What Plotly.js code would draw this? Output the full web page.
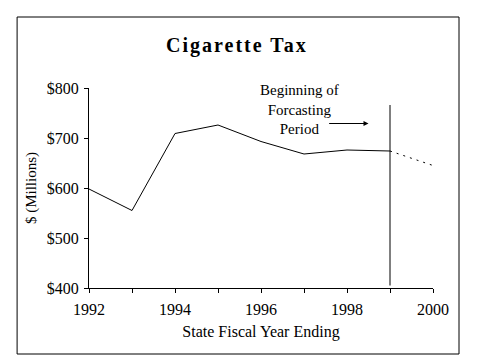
<!DOCTYPE html>
<html>
<head>
<meta charset="utf-8">
<script src="https://cdn.plot.ly/plotly-3.0.1.min.js"></script>
<style>
html,body{margin:0;padding:0;background:#fff;}
#chart{width:479px;height:359px;}
#chart .gtitle{letter-spacing:2px;}
</style>
</head>
<body>
<div id="chart"></div>
<script>
// Actual collections (SFY 1992-1999)
const actualYears = [1992, 1993, 1994, 1995, 1996, 1997, 1998, 1999];
const actualValues = [598, 555, 709, 726, 693, 668, 676, 674];
// Forecast segment
const forecastYears = [1999, 2000];
const forecastValues = [674, 645];
// Axis ticks
const xTickVals = [1992, 1993, 1994, 1995, 1996, 1997, 1998, 1999, 2000];
const xTickText = ['1992', '', '1994', '', '1996', '', '1998', '', '2000'];
const yTickVals = [400, 500, 600, 700, 800];
const yTickText = ['$400', '$500', '$600', '$700', '$800'];
// Forecast start marker
const forecastStart = 1999;
const markerRange = [405, 766];

const serif = 'Liberation Serif, Times New Roman, serif';

const traces = [
  {x: actualYears, y: actualValues, type: 'scatter', mode: 'lines',
   line: {color: '#000', width: 1}, hoverinfo: 'skip', showlegend: false},
  {x: forecastYears, y: forecastValues, type: 'scatter', mode: 'lines',
   line: {color: '#000', width: 1, dash: '2px,5px'}, hoverinfo: 'skip', showlegend: false}
];

const layout = {
  width: 479, height: 359,
  margin: {l: 89, r: 46, t: 88, b: 71},
  paper_bgcolor: '#fff', plot_bgcolor: '#fff',
  font: {family: serif, size: 15, color: '#000'},
  title: {text: '<b>Cigarette Tax</b>', font: {family: serif, size: 20, color: '#000'},
          xref: 'paper', x: 0.43, xanchor: 'center', yref: 'container', y: 0.875, yanchor: 'middle'},
  xaxis: {range: [1992, 2000], tickvals: xTickVals, ticktext: xTickText,
          showgrid: false, zeroline: false, showline: true, linecolor: '#000', linewidth: 1,
          ticks: 'outside', ticklen: 4, tickcolor: '#000', tickfont: {family: serif, size: 16},
          ticklabelstandoff: 3,
          title: {text: 'State Fiscal Year Ending', font: {family: serif, size: 16}, standoff: 8}},
  yaxis: {range: [400, 800], tickvals: yTickVals, ticktext: yTickText,
          showgrid: false, zeroline: false, showline: true, linecolor: '#000', linewidth: 1,
          ticks: 'outside', ticklen: 4, tickcolor: '#000', tickfont: {family: serif, size: 16},
          ticklabelstandoff: 2,
          title: {text: '$ (Millions)', font: {family: serif, size: 15}, standoff: 6}},
  shapes: [
    {type: 'line', xref: 'x', yref: 'y', x0: forecastStart, x1: forecastStart,
     y0: markerRange[0], y1: markerRange[1], line: {color: '#000', width: 1}},
    {type: 'rect', xref: 'paper', yref: 'paper', x0: -0.209, x1: 1.0756, y0: -0.33, y1: 1.355,
     line: {color: '#000', width: 1}, fillcolor: 'rgba(0,0,0,0)', layer: 'below'}
  ],
  annotations: [
    {x: 1996.9, y: 758, xref: 'x', yref: 'y', text: 'Beginning of<br>Forcasting<br>Period',
     showarrow: false, font: {family: serif, size: 15, color: '#000'}, align: 'center'},
    {x: 1998.5, y: 729, xref: 'x', yref: 'y', ax: 1997.55, ay: 729, axref: 'x', ayref: 'y',
     text: '', showarrow: true, arrowhead: 2, arrowsize: 1, arrowwidth: 1, arrowcolor: '#000'}
  ]
};

Plotly.newPlot('chart', traces, layout, {staticPlot: true, displayModeBar: false});
</script>
</body>
</html>
